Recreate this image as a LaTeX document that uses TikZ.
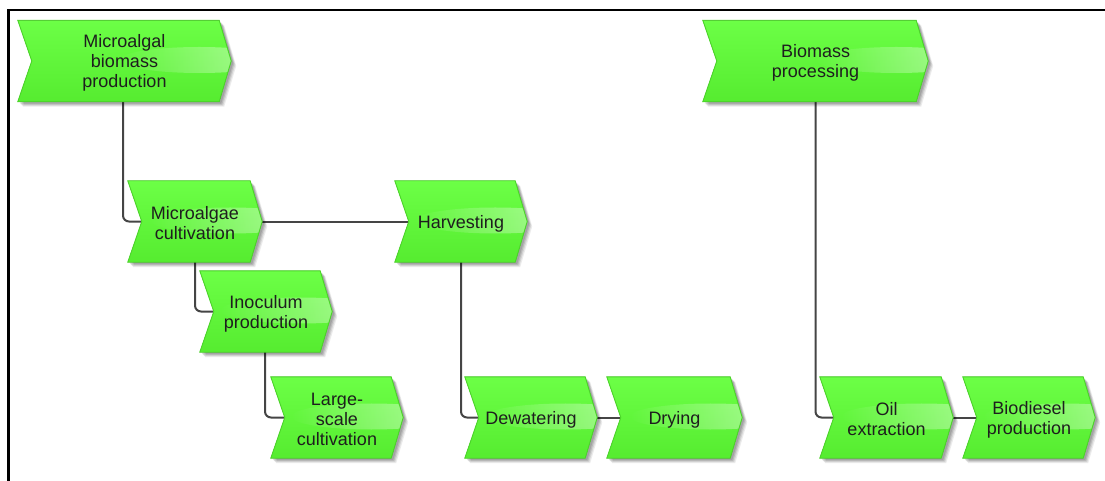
\documentclass[tikz,border=0pt]{standalone}
\usepackage{fontspec}
\setmainfont{Liberation Sans}
\usetikzlibrary{calc,fadings}

\pgfdeclarelayer{links}
\pgfdeclarelayer{boxes}
\pgfsetlayers{links,boxes,main}

\definecolor{evtop}{HTML}{6CFF46}
\definecolor{evbot}{HTML}{56EC30}
\definecolor{evline}{HTML}{4CD62A}
\definecolor{linkgray}{HTML}{454545}
\definecolor{txtcol}{HTML}{1E1E1E}

% gloss fades in from the left
\tikzfading[name=glossfade, left color=transparent!100, right color=transparent!0]

\tikzset{
  evt/.style={rectangle, inner sep=0pt, minimum height=81pt, minimum width=133pt,
    align=center, font=\fontsize{18}{20}\selectfont, text=txtcol, yshift=-2pt},
  link/.style={draw=linkgray, line width=2pt, rounded corners=6pt},
  frameline/.style={line width=2.6pt, draw=black}
}

% chevron (event) body behind a named node: shadow, gradient, gloss, outline;
% the body sits 2pt above the node so the text lies slightly low in it
\newcommand\evtshape[1]{%
  \path ($(#1.north west)+(0pt,2pt)$)   coordinate (#1@a)
        ($(#1.north east)+(-12pt,2pt)$) coordinate (#1@b)
        ($(#1.east)+(0pt,2pt)$)         coordinate (#1@c)
        ($(#1.south east)+(-12pt,2pt)$) coordinate (#1@d)
        ($(#1.south west)+(0pt,2pt)$)   coordinate (#1@e)
        ($(#1.west)+(14pt,2pt)$)        coordinate (#1@f)
        ($(#1.center)+(0pt,2pt)$)       coordinate (#1@m);
  \foreach \s/\o in {5/0.08,4/0.10,3/0.12,2/0.12}{%
    \fill[black,opacity=\o]
      ([shift={(\s pt,-\s pt)}]#1@a) -- ([shift={(\s pt,-\s pt)}]#1@b) --
      ([shift={(\s pt,-\s pt)}]#1@c) -- ([shift={(\s pt,-\s pt)}]#1@d) --
      ([shift={(\s pt,-\s pt)}]#1@e) -- ([shift={(\s pt,-\s pt)}]#1@f) -- cycle;}
  \fill[top color=evtop, bottom color=evbot]
    (#1@a) -- (#1@b) -- (#1@c) -- (#1@d) -- (#1@e) -- (#1@f) -- cycle;
  \begin{scope}
    \clip (#1@a) -- (#1@b) -- (#1@c) -- (#1@d) -- (#1@e) -- (#1@f) -- cycle;
    \fill[white, opacity=0.5, path fading=glossfade]
      ([shift={(-32pt,1pt)}]#1@c) ellipse [x radius=80pt, y radius=13pt];
  \end{scope}
  \draw[evline, line width=0.9pt, line join=miter]
    (#1@a) -- (#1@b) -- (#1@c) -- (#1@d) -- (#1@e) -- (#1@f) -- cycle;
}

\begin{document}
\begin{tikzpicture}[x=1pt, y=-1pt]
  \useasboundingbox (0,0) rectangle (1105,481);

  % frame
  \draw[frameline] (8.5,481) -- (8.5,10) -- (1105,10);

  % events
  \node[evt, minimum width=213pt] (mbp)  at (124.5,61)  {Microalgal\\biomass\\production};
  \node[evt, minimum width=225pt] (bp)   at (815.5,61)  {Biomass\\processing};
  \node[evt, minimum width=134pt] (mc)   at (195,221.5) {Microalgae\\cultivation};
  \node[evt, minimum width=132pt] (harv) at (461,221.5) {Harvesting};
  \node[evt, minimum width=132pt] (inoc) at (266,311.5) {Inoculum\\production};
  \node[evt, minimum width=132pt] (lsc)  at (337,417.5) {Large-\\scale\\cultivation};
  \node[evt, minimum width=132pt] (dew)  at (531,417.5) {Dewatering};
  \node[evt, minimum width=135pt] (dry)  at (674.5,417.5) {Drying};
  \node[evt, minimum width=133pt] (oil)  at (886.5,417.5) {Oil\\extraction};
  \node[evt, minimum width=132pt] (bio)  at (1029,417.5) {Biodiesel\\production};

  \begin{pgfonlayer}{boxes}
    \foreach \n in {mbp,bp,mc,harv,inoc,lsc,dew,dry,oil,bio}{\evtshape{\n}}
  \end{pgfonlayer}

  % connectors
  \begin{pgfonlayer}{links}
    \draw[link] ([xshift=-1.5pt]mbp@m) |- (mc@m);
    \draw[link] (mc@m)   |- (inoc@m);
    \draw[link] ([xshift=-1pt]inoc@m) |- (lsc@m);
    \draw[link] (mc@m)   -- (harv@m);
    \draw[link] (harv@m) |- (dew@m);
    \draw[link] (dew@m)  -- (dry@m);
    \draw[link] (bp@m)   |- (oil@m);
    \draw[link] (oil@m)  -- (bio@m);
  \end{pgfonlayer}
\end{tikzpicture}
\end{document}
